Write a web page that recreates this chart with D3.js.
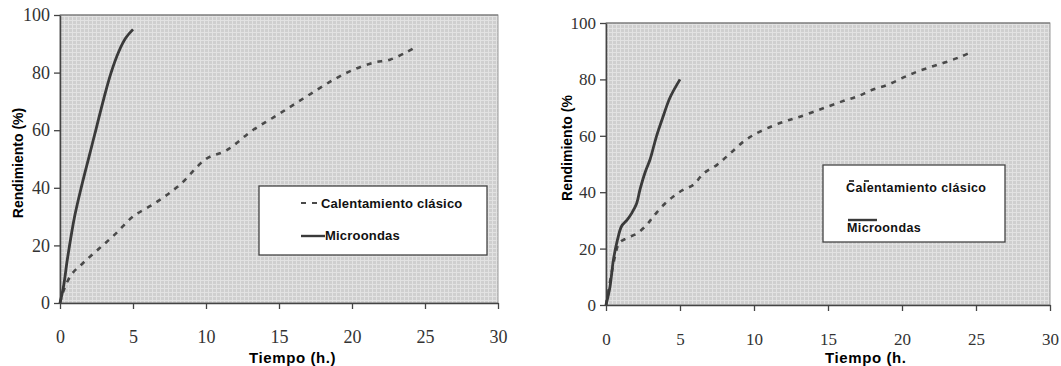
<!DOCTYPE html>
<html>
<head>
<meta charset="utf-8">
<script src="https://cdn.jsdelivr.net/npm/d3@7"></script>
<style>
  body { margin: 0; background: #fff; }
  svg { display: block; }
</style>
</head>
<body>
<svg id="chart" width="1061" height="366"></svg>
<script>
// tick labels shared by both panels
const xTicks = [0, 5, 10, 15, 20, 25, 30];
const yTicks = [0, 20, 40, 60, 80, 100];

// left panel
const leftMicroT = [0, 0.25, 0.5, 1, 1.5, 2, 2.5, 3, 3.5, 4, 4.5, 5];
const leftMicroY = [0, 6, 15, 30, 41, 51, 61, 71, 80, 87, 92, 95];
const leftClassicT = [0, 0.3, 0.8, 1.6, 2.7, 3.8, 5, 6.6, 8.2, 10, 11.4, 13.2, 14.8, 16.2, 17.6, 18.9, 20.1, 21.5, 22.6, 23.7, 24.4];
const leftClassicY = [0, 5, 10, 14, 19, 24, 30, 35, 41, 50, 53, 60, 65, 69.5, 74, 78, 81, 83.5, 84.5, 87, 89];

// right panel
const rightMicroT = [0, 0.27, 0.5, 0.77, 1.06, 1.4, 1.73, 2.07, 2.3, 2.64, 2.97, 3.42, 3.87, 4.32, 5];
const rightMicroY = [0, 6.5, 16, 23, 28, 30, 32.5, 36, 41, 47, 51.5, 60, 67, 73.5, 80];
const rightClassicT = [0, 0.6, 0.9, 1.4, 2.1, 2.75, 3.2, 3.8, 4.55, 5.2, 5.9, 6.6, 7.5, 8.4, 9.3, 10, 10.9, 12, 12.9, 14.5, 16, 17, 18, 19, 20.1, 21, 22, 23, 24, 24.8];
const rightClassicY = [0, 17, 22, 23.7, 25.4, 28.4, 31.4, 35, 38.5, 40.8, 42.6, 46.7, 49.7, 53.8, 58, 60.4, 62.7, 65, 66.4, 69.4, 72.3, 74, 76.3, 78, 80.7, 82.7, 84.5, 86.2, 88.1, 90];

const seriesNames = ["Calentamiento clásico", "Microondas"];

const svg = d3.select("#chart");

// dotted grey fill of the plot area
const pat = svg.append("defs").append("pattern")
  .attr("id", "dots").attr("width", 4).attr("height", 4)
  .attr("patternUnits", "userSpaceOnUse");
pat.append("rect").attr("width", 4).attr("height", 4).attr("fill", "#cfcfcf");
pat.append("rect").attr("width", 4).attr("height", 1).attr("fill", "#e2e2e2");
pat.append("rect").attr("width", 1).attr("height", 4).attr("fill", "#e2e2e2");

const zip = (t, y) => t.map((d, i) => [d, y[i]]);

function drawPanel(cfg) {
  const x = d3.scaleLinear().domain([0, 30]).range([cfg.left, cfg.right]);
  const y = d3.scaleLinear().domain([0, 100]).range([cfg.bottom, cfg.top]);
  const g = svg.append("g");

  g.append("rect")
    .attr("x", cfg.left).attr("y", cfg.top)
    .attr("width", cfg.right - cfg.left).attr("height", cfg.bottom - cfg.top)
    .attr("fill", "url(#dots)")
    .attr("stroke", "#9a9a9a").attr("stroke-width", 1);
  g.append("line")
    .attr("x1", cfg.left).attr("x2", cfg.right)
    .attr("y1", cfg.top).attr("y2", cfg.top)
    .attr("stroke", "#6e6e6e");

  // axes
  const yAx = g.append("g")
    .attr("transform", `translate(${cfg.left},0)`)
    .call(d3.axisLeft(y).tickValues(yTicks).tickSize(6).tickSizeOuter(0).tickPadding(4));
  const xAx = g.append("g")
    .attr("transform", `translate(0,${cfg.bottom})`)
    .call(d3.axisBottom(x).tickValues(xTicks).tickSize(6).tickSizeOuter(0).tickPadding(cfg.xPad));
  [yAx, xAx].forEach(a => {
    a.select(".domain").attr("stroke", "#444").attr("stroke-width", 1.5);
    a.selectAll(".tick line").attr("stroke", "#444").attr("stroke-width", 1.3);
    a.selectAll(".tick text")
      .attr("font-family", "'Liberation Serif', serif")
      .attr("font-size", cfg.tickFont).attr("fill", "#333");
  });

  // curves
  const line = d3.line().x(d => x(d[0])).y(d => y(d[1])).curve(d3.curveCatmullRom.alpha(0.5));
  g.append("path").datum(cfg.classic)
    .attr("d", line).attr("fill", "none")
    .attr("stroke", "#4a4a4a").attr("stroke-width", 2.6)
    .attr("stroke-dasharray", "5,6");
  g.append("path").datum(cfg.micro)
    .attr("d", line).attr("fill", "none")
    .attr("stroke", "#3a3a3a").attr("stroke-width", 2.8);

  // axis titles
  g.append("text")
    .attr("transform", `translate(${cfg.yTitleX},${cfg.yTitleY}) rotate(-90)`)
    .attr("text-anchor", "middle")
    .attr("font-family", "'Liberation Sans', Arial, sans-serif")
    .attr("font-weight", "bold").attr("font-size", 14)
    .text(cfg.yTitle);
  g.append("text")
    .attr("x", cfg.xTitleX).attr("y", 363)
    .attr("font-family", "'Liberation Sans', Arial, sans-serif")
    .attr("font-weight", "bold").attr("font-size", 15)
    .attr("letter-spacing", 0.6)
    .text(cfg.xTitle);

  // legend
  const L = cfg.legend;
  g.append("rect")
    .attr("x", L.x).attr("y", L.y).attr("width", L.w).attr("height", L.h)
    .attr("fill", "#fff").attr("stroke", "#444").attr("stroke-width", 1.3);
  const lt = (tx, ty, s) => g.append("text")
    .attr("x", tx).attr("y", ty)
    .attr("font-family", "'Liberation Sans', Arial, sans-serif")
    .attr("font-weight", "bold").attr("font-size", L.font).attr("fill", "#111")
    .attr("letter-spacing", L.ls)
    .text(s);
  lt(L.t1x, L.t1y, seriesNames[0]);
  lt(L.t2x, L.t2y, seriesNames[1]);
  g.append("line")
    .attr("x1", L.d1[0]).attr("x2", L.d1[1]).attr("y1", L.d1[2]).attr("y2", L.d1[2])
    .attr("stroke", "#4a4a4a").attr("stroke-width", 2).attr("stroke-dasharray", L.dash);
  g.append("line")
    .attr("x1", L.s1[0]).attr("x2", L.s1[1]).attr("y1", L.s1[2]).attr("y2", L.s1[2])
    .attr("stroke", "#3a3a3a").attr("stroke-width", 2.4);
}

drawPanel({
  left: 60, right: 498, top: 15, bottom: 303,
  tickFont: 18, xPad: 21,
  classic: zip(leftClassicT, leftClassicY),
  micro: zip(leftMicroT, leftMicroY),
  yTitle: "Rendimiento (%)", yTitleX: 23, yTitleY: 163,
  xTitle: "Tiempo (h.)", xTitleX: 249,
  legend: {
    x: 259, y: 186, w: 228, h: 69, font: 13, ls: 0.2,
    t1x: 321, t1y: 208, t2x: 325, t2y: 240,
    d1: [301, 318, 203], dash: "5,6",
    s1: [301, 325, 236]
  }
});

drawPanel({
  left: 606, right: 1050, top: 23, bottom: 305,
  tickFont: 17, xPad: 22,
  classic: zip(rightClassicT, rightClassicY),
  micro: zip(rightMicroT, rightMicroY),
  yTitle: "Rendimiento (%", yTitleX: 572, yTitleY: 148,
  xTitle: "Tiempo (h.", xTitleX: 825,
  legend: {
    x: 823, y: 165, w: 182, h: 77, font: 12.5, ls: 0.4,
    t1x: 846, t1y: 192, t2x: 847, t2y: 232,
    d1: [849, 869, 181], dash: "5,10",
    s1: [848, 877, 220]
  }
});
</script>
</body>
</html>
